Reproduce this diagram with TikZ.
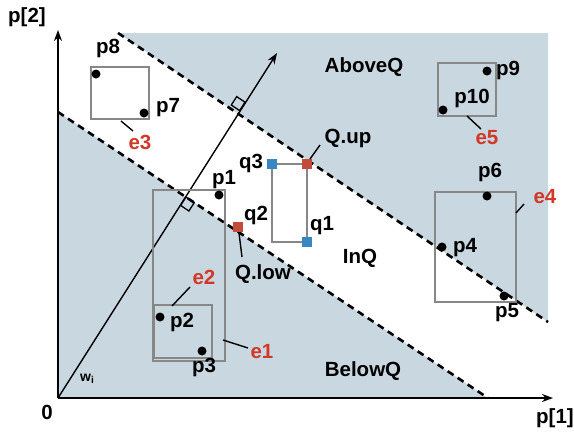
\documentclass[tikz,border=0pt]{standalone}
\usepackage{fontspec}
\setmainfont{Liberation Sans}
\usetikzlibrary{arrows.meta,calc}
\definecolor{regionblue}{RGB}{201,215,224}
\definecolor{boxgray}{RGB}{135,135,135}
\definecolor{lblred}{RGB}{210,55,40}
\definecolor{qred}{RGB}{195,75,60}
\definecolor{qblue}{RGB}{55,135,195}
\tikzset{
  lbl/.style={font=\fontsize{20.5}{23}\selectfont\bfseries, inner sep=0pt},
  redlbl/.style={lbl, text=lblred},
  pdot/.style={circle, fill=black, inner sep=0pt, minimum size=9pt},
  ebox/.style={draw=boxgray, line width=1.6pt},
  dashline/.style={line width=2.6pt, dash pattern=on 7pt off 5pt},
  axis/.style={line width=1.8pt, -{Stealth[length=11pt,width=8pt]}},
  conn/.style={line width=1.4pt},
  qsq/.style={rectangle, inner sep=0pt, minimum size=10pt},
  rmark/.style={line width=1.3pt}
}
\begin{document}
\begin{tikzpicture}[x=1pt,y=-1pt]
\useasboundingbox (0,0) rectangle (574,437);
% shaded regions
\fill[regionblue] (118,33) -- (548,33) -- (548,322) -- cycle;
\fill[regionblue] (58,112) -- (488,398) -- (58,398) -- cycle;
% dashed lines
\coordinate (ua) at (118,33);
\coordinate (ub) at (548,322);
\coordinate (la) at (58,112);
\coordinate (lb) at (488,398);
\draw[dashline] (ua) -- (ub);
\draw[dashline] (la) -- (lb);
% axes
\coordinate (O) at (58,398);
\coordinate (ytip) at (58,30);
\coordinate (xtip) at (553,398);
\draw[axis] (O) -- (ytip);
\draw[axis] (O) -- (xtip);
\coordinate (wtip) at (277,53);
\draw[line width=1.4pt, -{Stealth[length=11pt,width=8pt]}] (O) -- (wtip);
% right angle markers
\coordinate (I1) at (237.5,114);
\coordinate (I2) at (186,197);
\draw[rmark] ($(I1)+(2.1,-3.4)$) -- ++(5.4,-8.4) -- ++(-8.3,-5.6) -- ++(-5.4,8.4) -- cycle;
\draw[rmark] (I2) -- ++(-5.4,8.4) -- ++(8.3,5.6) -- ++(5.4,-8.4) -- cycle;
% boxes
\draw[ebox] (91,67) rectangle (149,119);
\draw[ebox] (153,190) rectangle (225,361);
\draw[ebox] (154,305) rectangle (212,358);
\draw[ebox] (438,63) rectangle (496,116);
\draw[ebox] (435,192) rectangle (516,302);
% Q box
\node[qsq, fill=qblue] (q3) at (272,164) {};
\node[qsq, fill=qred] (qup) at (307,164) {};
\node[qsq, fill=qblue] (q1) at (307,242) {};
\node[qsq, fill=qred] (q2) at (238,227) {};
\coordinate (q4) at (272,242);
\draw[ebox] (q3) -- (qup) -- (q1) -- (q4) -- (q3);
\node[qsq, fill=qblue] at (272,164) {};
\node[qsq, fill=qred] at (307,164) {};
\node[qsq, fill=qblue] at (307,242) {};
% points
\node[pdot] (p8d) at (96,74) {};
\node[pdot] (p7d) at (144,113) {};
\node[pdot] (p1d) at (219,195) {};
\node[pdot] (p2d) at (160,317) {};
\node[pdot] (p3d) at (202,351) {};
\node[pdot] (p9d) at (487,71) {};
\node[pdot] (p10d) at (443,110) {};
\node[pdot] (p6d) at (487,196) {};
\node[pdot] (p4d) at (442,247) {};
\node[pdot] (p5d) at (504,296) {};
% labels
\node[lbl] (p8) at (108,48) {p8};
\node[lbl] (p7) at (168,108) {p7};
\node[lbl] (p1) at (224,180) {p1};
\node[lbl] (p2) at (182,322) {p2};
\node[lbl] (p3) at (204,367) {p3};
\node[lbl] (p9) at (508,70) {p9};
\node[lbl] (p10) at (472,98) {p10};
\node[lbl] (p6) at (490,172) {p6};
\node[lbl] (p4) at (465,248) {p4};
\node[lbl] (p5) at (507,313) {p5};
\node[redlbl] (e3) at (140,142) {e3};
\node[redlbl] (e2) at (204,277) {e2};
\node[redlbl] (e1) at (262,352) {e1};
\node[redlbl] (e5) at (487,138) {e5};
\node[redlbl] (e4) at (545,197) {e4};
\node[lbl] (q3l) at (251,163) {q3};
\node[lbl] (q1l) at (322,226) {q1};
\node[lbl] (q2l) at (256,215) {q2};
\node[lbl] (qupl) at (348,138) {Q.up};
\node[lbl] (qlowl) at (263,274) {Q.low};
\node[lbl] (inq) at (360,258) {InQ};
\node[lbl] (belowq) at (363,371) {BelowQ};
\node[lbl] (aboveq) at (364,67) {AboveQ};
\node[lbl] (zero) at (47,412) {0};
\node[lbl] (ax2) at (27,17) {p[2]};
\node[lbl] (ax1) at (555,418) {p[1]};
\node[font=\fontsize{14}{16}\selectfont\bfseries, inner sep=0pt] (wi) at (87,379) {w\raisebox{-1.5pt}{\fontsize{10}{11}\selectfont i}};
% connectors
\coordinate (c3a) at (121,121); \coordinate (c3b) at (133,131);
\coordinate (c2a) at (172,306); \coordinate (c2b) at (190,287);
\coordinate (c1a) at (223,340); \coordinate (c1b) at (248,348);
\coordinate (c5a) at (467,116); \coordinate (c5b) at (481,129);
\coordinate (c4a) at (516,213); \coordinate (c4b) at (524,204);
\coordinate (cua) at (310,159); \coordinate (cub) at (320,145);
\coordinate (cla) at (239,233); \coordinate (clb) at (242,257);
\draw[conn] (c3a) -- (c3b);
\draw[conn] (c2a) -- (c2b);
\draw[conn] (c1a) -- (c1b);
\draw[conn] (c5a) -- (c5b);
\draw[conn] (c4a) -- (c4b);
\draw[conn] (cua) -- (cub);
\draw[conn] (cla) -- (clb);
\end{tikzpicture}
\end{document}
